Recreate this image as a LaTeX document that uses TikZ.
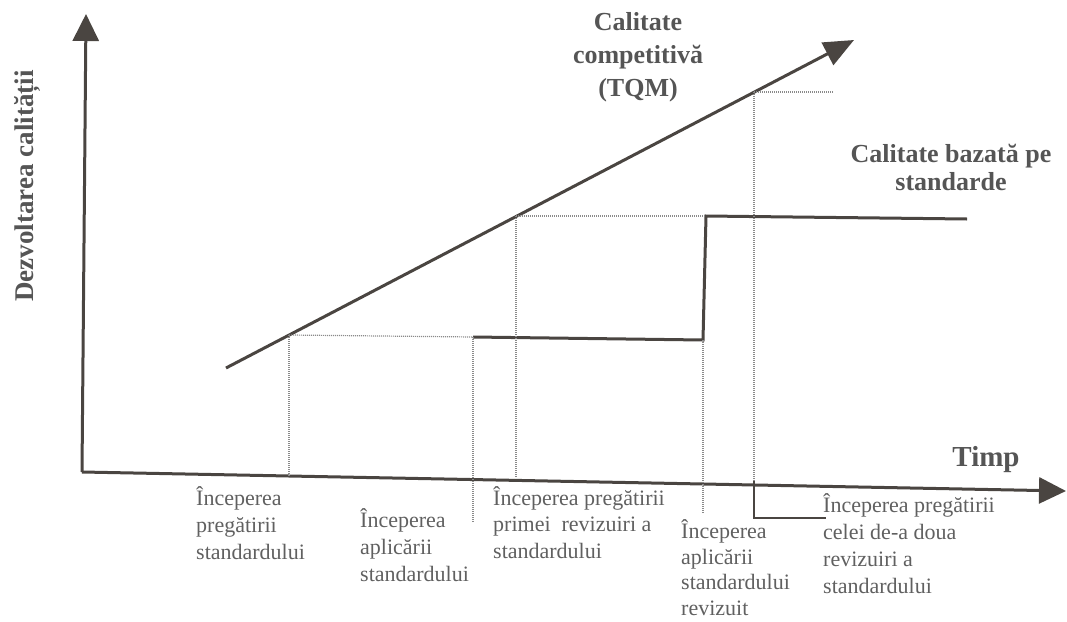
\documentclass[tikz,border=0pt]{standalone}
\usepackage{fontspec}
\setmainfont{Liberation Serif}
\usetikzlibrary{arrows.meta}
\definecolor{ink}{HTML}{4A4541}
\definecolor{txt}{HTML}{555555}
\definecolor{txtl}{HTML}{606060}
\definecolor{dotc}{HTML}{8A8A8A}
\begin{document}
\begin{tikzpicture}[x=1pt,y=-1pt,
  axis/.style={ink, line width=3pt, -{Triangle[length=27pt,width=26pt]}},
  curve/.style={ink, line width=3pt},
  guide/.style={dotc, line width=1.2pt, dash pattern=on 1pt off 1pt},
  lbl/.style={txtl, font=\fontsize{22}{27}\selectfont, align=left, anchor=base west, inner sep=0pt},
  blbl/.style={txt, font=\fontsize{26}{32}\selectfont\bfseries, align=center, anchor=base, inner sep=0pt}]
\useasboundingbox (0,0) rectangle (1067,621);
% axes
\coordinate (O) at (82,472);
\coordinate (Ytip) at (86,14);
\coordinate (Xtip) at (1066,491);
\draw[axis] (O) -- (Ytip);
\draw[axis] (O) -- (Xtip);
% TQM line
\coordinate (A) at (226,368);
\coordinate (B) at (854,40);
\draw[curve, -{Triangle[length=30pt,width=25pt]}] (A) -- (B);
\coordinate (P1) at (289,335);
\coordinate (P2) at (516,216);
\coordinate (P3) at (754,92);
% step line
\coordinate (S1) at (473,337);
\coordinate (S2) at (703,340);
\coordinate (S3) at (706,216);
\coordinate (S4) at (967,219);
\draw[curve] (S1) -- (S2) -- (S3) -- (S4);
% guides
\coordinate (G1) at (289,476);
\coordinate (G2) at (473,522);
\coordinate (G3) at (516,478);
\coordinate (G4) at (703,514);
\coordinate (G5) at (754,481);
\coordinate (G6) at (833,92);
\draw[guide] (P1) -- (G1);
\draw[guide] (P1) -- (S1);
\draw[guide] (S1) -- (G2);
\draw[guide] (P2) -- (G3);
\draw[guide] (P2) -- (S3);
\draw[guide] (S2) -- (G4);
\draw[guide] (P3) -- (G5);
\draw[guide] (P3) -- (G6);
% solid L
\coordinate (L1) at (754,518);
\coordinate (L2) at (826,518);
\draw[ink, line width=2pt] (G5) -- (L1) -- (L2);
% labels
\node[blbl, rotate=90, font=\fontsize{27}{32}\selectfont\bfseries] (ylab) at (33,186) {Dezvoltarea calității};
\node[blbl, font=\fontsize{29}{32}\selectfont\bfseries] (timp) at (986,466) {Timp};
\node[blbl, font=\fontsize{26}{33}\selectfont\bfseries] (tqm) at (638,96) {Calitate\\competitivă\\(TQM)};
\node[blbl, font=\fontsize{26}{28}\selectfont\bfseries] (std) at (951,190) {Calitate bazată pe\\standarde};
\node[lbl] (t1) at (196,559) {Începerea\\pregătirii\\standardului};
\node[lbl] (t2) at (360,581) {Începerea\\aplicării\\standardului};
\node[lbl, font=\fontsize{22}{26.5}\selectfont] (t3) at (493,558) {Începerea pregătirii\\primei\ \ revizuiri a\\standardului};
\node[lbl, font=\fontsize{22}{25.5}\selectfont] (t4) at (681,615) {Începerea\\aplicării\\standardului\\revizuit};
\node[lbl, font=\fontsize{22}{26.7}\selectfont] (t5) at (823,593) {Începerea pregătirii\\celei de-a doua\\revizuiri a\\standardului};
\end{tikzpicture}
\end{document}
